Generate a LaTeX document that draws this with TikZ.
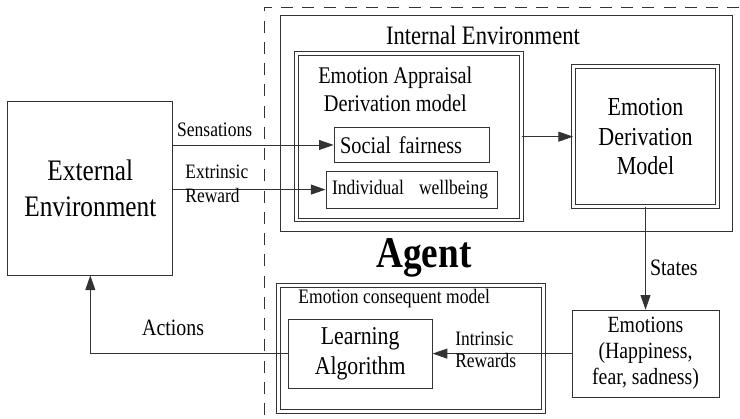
\documentclass[tikz,border=0pt]{standalone}
\usepackage{fontspec}
\setmainfont{Liberation Serif}[FakeStretch=0.85, UprightFont=*, BoldFont=* Bold]
\usetikzlibrary{arrows.meta}

\begin{document}
\begin{tikzpicture}[
  box/.style={draw=black!80, line width=0.7pt, align=center},
  dbox/.style={draw=black!80, line width=0.7pt, double, double distance=2.2pt},
  arr/.style={draw=black!80, line width=0.7pt, -{Triangle[length=11pt,width=7.5pt]}},
  lbl/.style={inner sep=0pt, align=left}]
  \useasboundingbox (0,0) rectangle (19.58,11.086);
  % agent border
  \draw[black!80, line width=0.7pt, dash pattern=on 9pt off 7pt] (6.99,0.1) -- (6.99,10.90) -- (19.58,10.90);
  % environment
  \node[box, minimum width=4.37cm, minimum height=4.58cm, font=\fontsize{22.4}{27}\selectfont] (ext) at (2.39,6.10) {External\\Environment};
  % internal environment with the appraisal part
  \node[box, minimum width=11.96cm, minimum height=5.72cm] (int) at (13.41,7.81) {};
  \node[lbl, font=\fontsize{20}{24}\selectfont] (intlbl) at (12.78,10.16) {Internal Environment};
  \node[dbox, minimum width=5.94cm, minimum height=4.41cm] (app) at (10.82,7.47) {};
  \node[lbl, align=center, font=\fontsize{18}{21}\selectfont] (applbl) at (10.46,8.73) {Emotion Appraisal\\Derivation model};
  \node[box, align=left, text width=3.78cm, inner xsep=0.16cm, minimum height=0.93cm, font=\fontsize{18}{21}\selectfont] (soc) at (10.89,7.25) {Social fairness};
  \node[box, align=left, text width=4.23cm, inner xsep=0.16cm, minimum height=0.98cm, font=\fontsize{15.5}{18}\selectfont] (ind) at (10.90,6.07) {Individual\hspace{0.4cm}wellbeing};
  \node[dbox, minimum width=3.81cm, minimum height=3.70cm, align=center, font=\fontsize{19.5}{22.5}\selectfont] (edm) at (17.08,7.47) {Emotion\\Derivation\\Model};
  \node[font=\bfseries\fontsize{33}{36}\selectfont, inner sep=0pt, anchor=base] (agent) at (11.22,4.02) {Agent};
  % consequent part
  \node[dbox, minimum width=7.01cm, minimum height=3.33cm] (cons) at (10.87,1.87) {};
  \node[lbl, font=\fontsize{15.5}{18}\selectfont] (conslbl) at (10.43,3.18) {Emotion consequent model};
  \node[box, minimum width=3.81cm, minimum height=1.83cm, font=\fontsize{19.3}{22.5}\selectfont] (learn) at (9.53,1.73) {Learning\\Algorithm};
  \node[box, minimum width=3.89cm, minimum height=2.30cm, font=\fontsize{17.5}{19.5}\selectfont] (emo) at (17.08,1.73) {Emotions\\(Happiness,\\fear, sadness)};
  % connectors
  \draw[arr] (ext.east |- soc.west) -- (soc.west);
  \draw[arr] (ext.east |- ind.west) -- (ind.west);
  \draw[arr] (app.east) -- (app.east -| edm.west);
  \draw[arr] (edm.south) -- (emo.north);
  \draw[arr] (emo.west) -- (learn.east);
  \draw[arr] (learn.west) -| (ext.south);
  % connector labels
  \node[lbl, font=\fontsize{15.5}{18}\selectfont] (sens) at (5.68,7.65) {Sensations};
  \node[lbl, anchor=west, font=\fontsize{15.4}{18}\selectfont] (extr) at (4.90,6.22) {Extrinsic\\Reward};
  \node[lbl, font=\fontsize{17.6}{20}\selectfont] (act) at (4.58,2.41) {Actions};
  \node[lbl, font=\fontsize{17.7}{20}\selectfont] (states) at (17.83,4.00) {States};
  \node[lbl, anchor=west, font=\fontsize{15.4}{16.5}\selectfont] (intr) at (12.04,1.83) {Intrinsic\\Rewards};
\end{tikzpicture}
\end{document}
